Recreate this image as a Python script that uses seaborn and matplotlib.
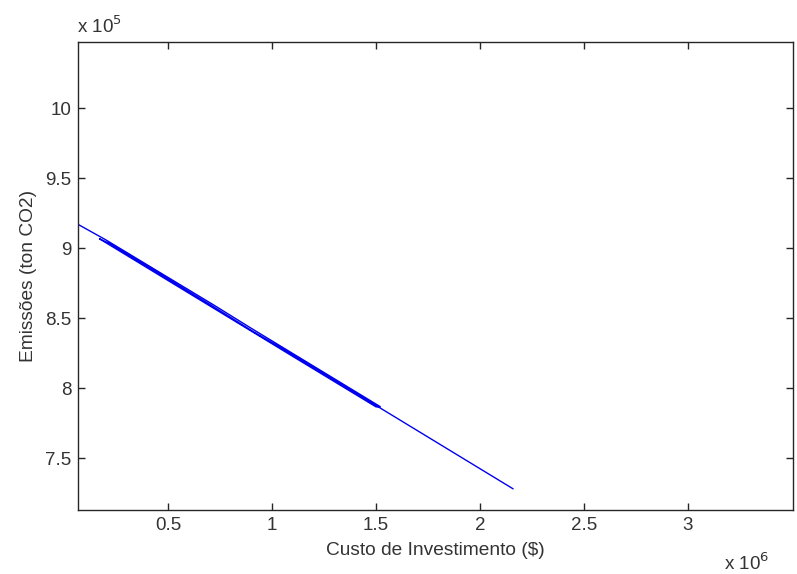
import matplotlib
matplotlib.use("Agg")
from matplotlib import pyplot as plt
from matplotlib.ticker import FuncFormatter, FixedLocator
import pandas as pd
import seaborn as sns

# Pareto front, in the order the points were connected
custo = [67000, 200000, 720000, 900000, 1520000,
         1500000, 1100000, 880000, 500000, 170000,
         220000, 700000, 900000, 1100000, 1520000, 2159000]
emissoes = [916900, 905900, 859300, 842700, 786800,
            786600, 822600, 842500, 876800, 906600,
            903100, 859800, 841200, 823700, 785800, 728100]

x_ticks = [500000, 1000000, 1500000, 2000000, 2500000, 3000000]
y_ticks = [750000, 800000, 850000, 900000, 950000, 1000000]

df = pd.DataFrame({"Custo": custo, "Emissoes": emissoes})

sns.set_style("ticks")
plt.rcParams['font.family'] = ['Liberation Sans', 'DejaVu Sans']

fig = plt.figure(figsize=(7.97, 5.74), dpi=100)
ax = fig.add_axes([0.098, 0.1115, 0.897, 0.815])

sns.lineplot(data=df, x="Custo", y="Emissoes", sort=False, estimator=None,
             color="#0000ee", linewidth=1.0, ax=ax)

ax.set_xlim(67000, 3505000)
ax.set_ylim(713000, 1047000)
ax.xaxis.set_major_locator(FixedLocator(x_ticks))
ax.yaxis.set_major_locator(FixedLocator(y_ticks))
ax.xaxis.set_major_formatter(FuncFormatter(lambda v, p: f"{v / 1e6:g}"))
ax.yaxis.set_major_formatter(FuncFormatter(lambda v, p: f"{v / 1e5:g}"))

for s in ax.spines.values():
    s.set_visible(True)
    s.set_color("#262626")
    s.set_linewidth(1.0)
ax.tick_params(direction="in", length=5, width=1, top=True, right=True,
               labelsize=13.5, labelcolor="#333333", color="#262626", pad=5)

ax.set_xlabel("Custo de Investimento ($)", fontsize=13.8, color="#333333", labelpad=6)
ax.set_ylabel("Emissões (ton CO2)", fontsize=13.8, color="#333333", labelpad=6)

fig.text(0.097, 0.955, r"x 10$^5$", fontsize=13.5, color="#333333", ha="left", va="center")
fig.text(0.908, 0.018, r"x 10$^6$", fontsize=13.5, color="#333333", ha="left", va="center")

fig.savefig("out.png", dpi=100, facecolor="white")
